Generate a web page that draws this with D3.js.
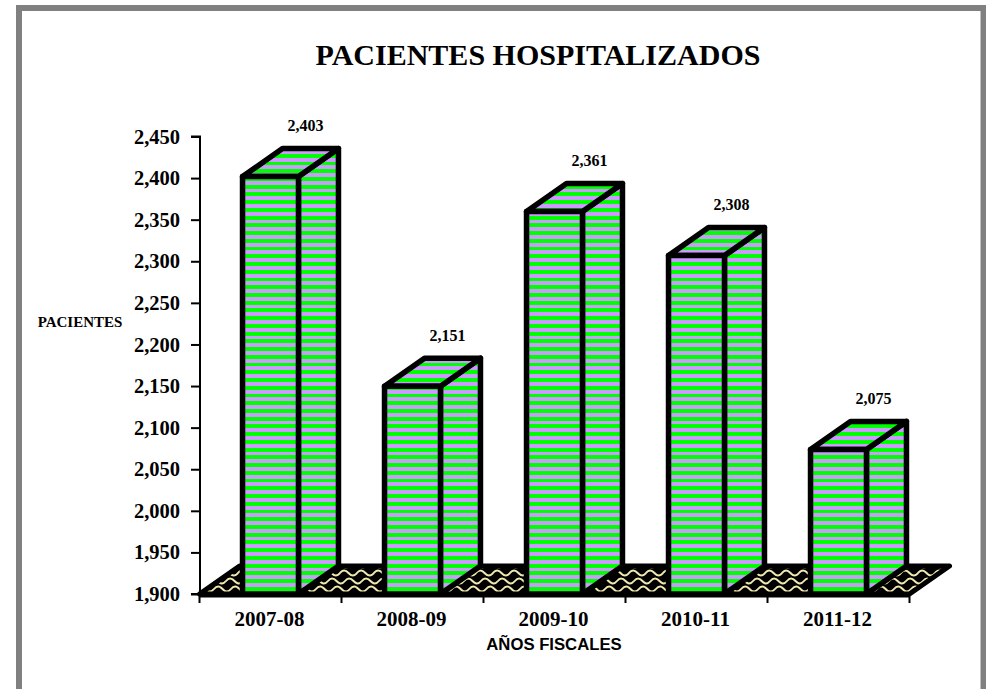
<!DOCTYPE html>
<html><head><meta charset="utf-8">
<script src="https://cdn.jsdelivr.net/npm/d3@7/dist/d3.min.js"></script>
<style>html,body{margin:0;padding:0;background:#fff}svg{display:block}
text{font-family:"Liberation Serif",serif;font-weight:bold;fill:#000}</style></head>
<body><div id="c"></div>
<script>
const categories=["2007-08","2008-09","2009-10","2010-11","2011-12"];
const values=[2403,2151,2361,2308,2075];
const valueLabels=["2,403","2,151","2,361","2,308","2,075"];
const yTicks=[1900,1950,2000,2050,2100,2150,2200,2250,2300,2350,2400,2450];
const title="PACIENTES HOSPITALIZADOS", yTitle="PACIENTES", xTitle="AÑOS FISCALES";

const W=986,H=689,dx=40,dy=28;
const svg=d3.select("#c").append("svg").attr("width",W).attr("height",H);
const defs=svg.append("defs");
const repeat=15,tile=116,P=tile/repeat;
const st=defs.append("pattern").attr("id","stripes").attr("patternUnits","userSpaceOnUse")
 .attr("width",8).attr("height",tile).attr("y",177);
st.append("rect").attr("width",8).attr("height",tile).attr("fill","#cc99ff");
st.selectAll("rect.g").data(d3.range(repeat)).join("rect").attr("class","g")
 .attr("width",8).attr("y",k=>Math.round(k*P)).attr("height",k=>Math.round((k+.5)*P)-Math.round(k*P))
 .attr("fill","#00ff00").attr("shape-rendering","crispEdges");
const wv=defs.append("pattern").attr("id","waves").attr("patternUnits","userSpaceOnUse")
 .attr("width",17).attr("height",24).attr("y",569);
wv.append("rect").attr("width",17).attr("height",24).attr("fill","#000");
[[0,4],[5,12],[10,20]].forEach(([ox,oy])=>{
 wv.append("path").attr("d",`M${ox-17},${oy}q4,-5 8.5,0t8.5,0t8.5,0t8.5,0t8.5,0t8.5,0`)
  .attr("fill","none").attr("stroke","#f0e8b0").attr("stroke-width",2);
});

// frame
svg.append("rect").attr("x",19).attr("y",8).attr("width",964.5).attr("height",H+20)
 .attr("fill","#fff").attr("stroke","#808080").attr("stroke-width",6);

const x=d3.scaleBand().domain(categories).range([199.5,909.5]).paddingInner(0.606).paddingOuter(0.303);
const y=d3.scaleLinear().domain([1900,2450]).range([594,136.5]);
const y0=y(1900);

// floor
const fx0=x.range()[0],fx1=x.range()[1];
svg.append("path").attr("d",`M${fx0},${y0}L${fx1},${y0}L${fx1+dx},${y0-dy}L${fx0+dx},${y0-dy}Z`)
 .attr("fill","url(#waves)").attr("stroke","#000").attr("stroke-width",5).attr("stroke-linejoin","round");

// bars
const bars=svg.append("g").selectAll("g").data(categories).join("g");
bars.each(function(c,i){
 const g=d3.select(this),l=x(c),r=l+x.bandwidth(),t=y(values[i])+1;
 const common=s=>s.attr("fill","url(#stripes)").attr("stroke","#000").attr("stroke-width",5.5).attr("stroke-linejoin","round");
 common(g.append("path").attr("d",`M${r},${t}L${r+dx},${t-dy}L${r+dx},${y0-dy}L${r},${y0}Z`));
 common(g.append("path").attr("d",`M${l},${t}L${l+dx},${t-dy}L${r+dx},${t-dy}L${r},${t}Z`));
 common(g.append("path").attr("d",`M${l},${t}H${r}V${y0}H${l}Z`));
 g.append("text").attr("x",l+x.bandwidth()/2+35).attr("y",t-dy-17.5).attr("text-anchor","middle")
  .style("font-size","16px").text(valueLabels[i]);
});
svg.append("line").attr("x1",fx0).attr("x2",fx1).attr("y1",y0+1).attr("y2",y0+1).attr("stroke","#000").attr("stroke-width",5);

// axes
const ya=d3.axisLeft(y).tickValues(yTicks).tickFormat(d3.format(",")).tickSize(9).tickPadding(11);
const yg=svg.append("g").attr("transform","translate(200,0)").call(ya);
yg.selectAll("path,line").attr("stroke","#000").attr("stroke-width",2);
yg.select("path").attr("d",`M-9,${y.range()[1]}H0V${y0}H-9`);
yg.selectAll("text").style("font-size","20.5px");

const xa=d3.axisBottom(x).tickSize(0).tickPadding(16);
const xg=svg.append("g").attr("transform",`translate(0,${y0+1})`).call(xa);
xg.select("path").remove();
xg.selectAll("text").style("font-size","21px").attr("dx",-1);
xg.selectAll("line.b").data(d3.range(categories.length+1)).join("line").attr("class","b")
 .attr("x1",i=>x.range()[0]+i*x.step()).attr("x2",i=>x.range()[0]+i*x.step()).attr("y1",0).attr("y2",8)
 .attr("stroke","#000").attr("stroke-width",2);

svg.append("text").attr("x",538).attr("y",65).attr("text-anchor","middle").style("font-size","30px").text(title);
svg.append("text").attr("x",80).attr("y",327).attr("text-anchor","middle").style("font-size","15px").text(yTitle);
svg.append("text").attr("x",554).attr("y",650).attr("text-anchor","middle")
 .style("font-family",'"Liberation Sans",sans-serif').style("font-size","16.7px").text(xTitle);
</script></body></html>
